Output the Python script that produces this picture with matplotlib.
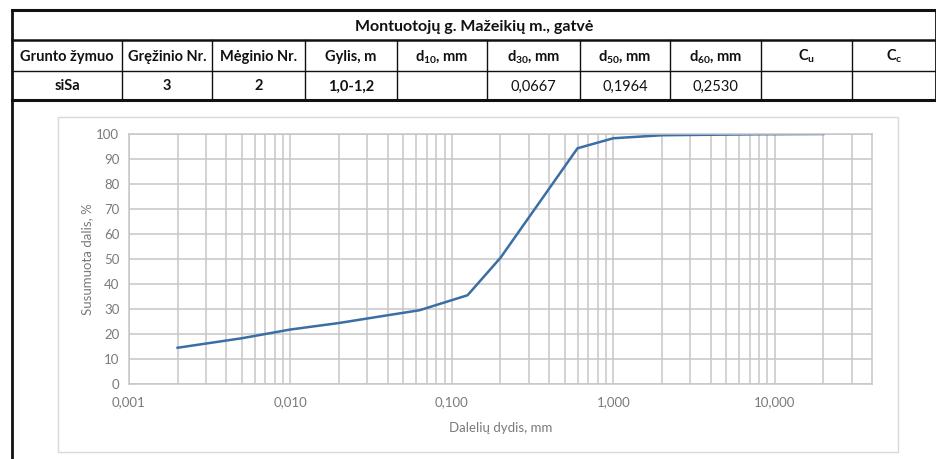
"""Grain size distribution curve for sample siSa, borehole 3."""

import matplotlib

matplotlib.use("Agg")
import matplotlib.pyplot as plt
from matplotlib.lines import Line2D
from matplotlib.patches import Rectangle
from matplotlib.ticker import FixedLocator, FuncFormatter, NullFormatter

W, H = 937, 459

title = "Montuotojų g. Mažeikių m., gatvė"
headers = ["Grunto žymuo", "Gręžinio Nr.", "Mėginio Nr.", "Gylis, m",
           r"d$_\mathbf{10}$, mm", r"d$_\mathbf{30}$, mm",
           r"d$_\mathbf{50}$, mm", r"d$_\mathbf{60}$, mm",
           r"C$_\mathbf{u}$", r"C$_\mathbf{c}$"]
row = ["siSa", "3", "2", "1,0-1,2", "", "0,0667", "0,1964", "0,2530", "", ""]
row_bold = [True, True, True, True, False, False, False, False, False, False]

# particle size (mm) and cumulative passing (%)
size_mm = [0.002, 0.005, 0.01, 0.02, 0.04, 0.063, 0.125, 0.2, 0.6,
           1.0, 2.0, 4.0, 8.0, 20.0]
passing = [14.5, 18.3, 21.8, 24.4, 27.5, 29.5, 35.5, 50.5, 94.3,
           98.3, 99.5, 99.7, 99.9, 100.0]

x_major = [0.001, 0.01, 0.1, 1, 10]
x_minor = [m * d for d in (0.001, 0.01, 0.1, 1) for m in range(2, 10)] + [20, 30]

plt.rcParams["font.family"] = ["Lato", "DejaVu Sans"]
plt.rcParams["mathtext.fontset"] = "custom"
plt.rcParams["mathtext.rm"] = "Lato"
plt.rcParams["mathtext.bf"] = "Lato:bold"
plt.rcParams["mathtext.default"] = "regular"

fig = plt.figure(figsize=(W / 100, H / 100), dpi=100)


def fx(px):
    return px / W


def fy(py):
    return 1 - py / H


def hline(y, x0, x1, lw):
    fig.add_artist(Line2D([fx(x0), fx(x1)], [fy(y), fy(y)], color="#111111",
                          lw=lw, transform=fig.transFigure))


def vline(x, y0, y1, lw):
    fig.add_artist(Line2D([fx(x), fx(x)], [fy(y0), fy(y1)], color="#111111",
                          lw=lw, transform=fig.transFigure))


# table grid
left, right = 12, 936
cols = [12, 122, 212, 305, 397, 487, 580, 670, 761, 852, 936]
y_top, y_head, y_row, y_bot = 10, 40, 71, 100

hline(y_top, left, right, 2.2)
hline(y_head, left, right, 1.8)
hline(y_row, left, right, 1.0)
hline(y_bot, left, right, 2.2)
vline(left, y_top, H, 2.0)
vline(right, y_top, y_bot, 2.0)
for c in cols[1:-1]:
    vline(c, y_head, y_bot, 1.0)

fig.text(fx((left + right) / 2), fy((y_top + y_head) / 2 + 2), title,
         ha="center", va="center", fontsize=11.5, fontweight="bold",
         color="#111111")
for i, h in enumerate(headers):
    cx = (cols[i] + cols[i + 1]) / 2
    fig.text(fx(cx), fy((y_head + y_row) / 2 + 1), h, ha="center",
             va="center", fontsize=10.5, fontweight="bold", color="#111111")
for i, v in enumerate(row):
    cx = (cols[i] + cols[i + 1]) / 2
    fig.text(fx(cx), fy((y_row + y_bot) / 2 + 1), v, ha="center",
             va="center", fontsize=10.5,
             fontweight="bold" if row_bold[i] else "normal", color="#111111")

# light chart frame
fig.add_artist(Rectangle((fx(58), fy(452)), fx(898) - fx(58), fy(117) - fy(452),
                         fill=False, edgecolor="#d9d9d9", lw=1.0,
                         transform=fig.transFigure))

ax = fig.add_axes([fx(129), fy(384), fx(872) - fx(129), fy(134) - fy(384)])
ax.plot(size_mm, passing, color="#3a6ea5", lw=1.8)

ax.set_xscale("log")
ax.set_xlim(0.001, 40)
ax.set_ylim(0, 100)
ax.xaxis.set_major_locator(FixedLocator(x_major))
ax.xaxis.set_minor_locator(FixedLocator(x_minor))
ax.xaxis.set_major_formatter(
    FuncFormatter(lambda v, _: f"{v:.3f}".replace(".", ",")))
ax.xaxis.set_minor_formatter(NullFormatter())
ax.set_yticks(range(0, 101, 10))

grid_c = "#c6c6c6"
ax.grid(which="major", color=grid_c, lw=1.1)
ax.grid(which="minor", axis="x", color=grid_c, lw=1.1)
ax.set_axisbelow(True)
for s in ax.spines.values():
    s.set_color(grid_c)
    s.set_linewidth(1.1)
ax.tick_params(which="both", length=0, colors="#7a7a7a", labelsize=9.5)
ax.tick_params(axis="x", pad=9)
ax.tick_params(axis="y", pad=7)

ax.set_xlabel("Dalelių dydis, mm", fontsize=9.5, color="#7a7a7a", labelpad=10)
ax.set_ylabel("Susumuota dalis, %", fontsize=9.5, color="#7a7a7a", labelpad=2)

fig.savefig("out.png", dpi=100)
